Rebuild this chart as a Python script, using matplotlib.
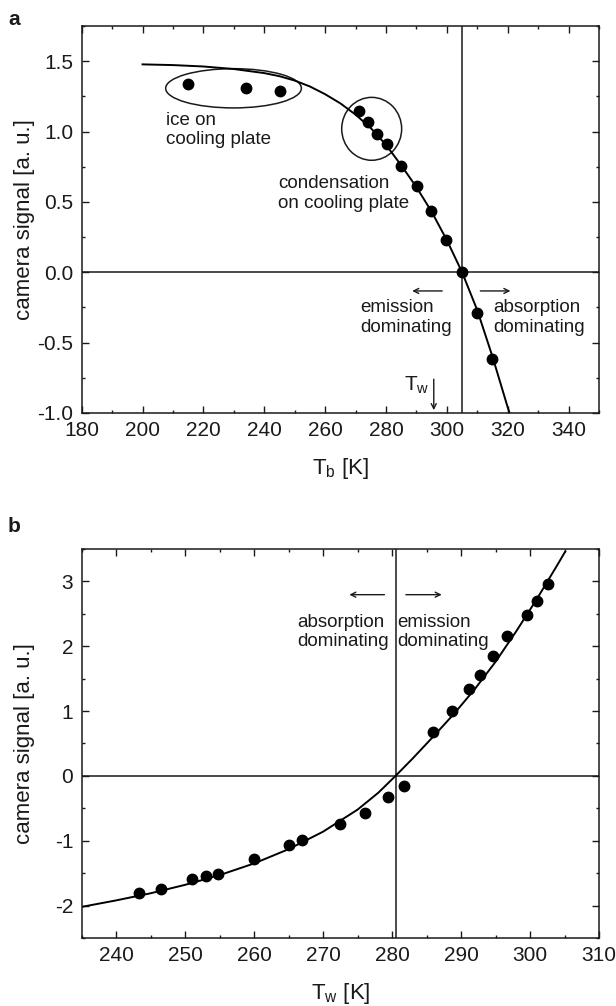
import matplotlib
matplotlib.use("Agg")
import matplotlib.pyplot as plt
from matplotlib.patches import Ellipse
from matplotlib.ticker import MultipleLocator

plt.rcParams['font.family'] = ['Liberation Sans', 'DejaVu Sans']
plt.rcParams['axes.unicode_minus'] = False
plt.rcParams['mathtext.default'] = 'regular'

# panel a: signal vs black body temperature T_b
tb_meas = [215.0, 234.0, 245.2, 271.1, 274.2, 277.0, 280.2, 285.0, 290.1,
           294.9, 299.8, 305.0, 310.0, 314.8]
sig_a = [1.338, 1.31, 1.286, 1.143, 1.064, 0.983, 0.914, 0.755, 0.614,
         0.433, 0.231, 0.0, -0.29, -0.619]
tb_fit = [200, 210, 220, 230, 240, 245, 250, 255, 260, 265, 270, 275, 280,
          285, 290, 295, 300, 305, 310, 315, 320, 320.6]
sig_a_fit = [1.477, 1.472, 1.462, 1.444, 1.415, 1.393, 1.362, 1.32, 1.265,
             1.2, 1.12, 1.025, 0.905, 0.76, 0.605, 0.43, 0.228, 0.0, -0.27,
             -0.6, -0.96, -1.0]
tw_a = 305.0

# panel b: signal vs water temperature T_w
tw_meas = [243.3, 246.5, 251.0, 253.0, 254.7, 260.0, 265.1, 266.9, 272.5,
           276.1, 279.4, 281.7, 285.9, 288.7, 291.2, 292.8, 294.6, 296.7,
           299.6, 301.0, 302.6]
sig_b = [-1.805, -1.738, -1.585, -1.549, -1.508, -1.282, -1.062, -0.985,
         -0.738, -0.574, -0.318, -0.154, 0.677, 1.005, 1.333, 1.559, 1.846,
         2.154, 2.477, 2.697, 2.954]
tw_fit = [235, 240, 245, 250, 255, 260, 265, 270, 275, 278, 280.5, 283,
          286, 289, 292, 295, 298, 301, 304, 305.1]
sig_b_fit = [-2.02, -1.92, -1.81, -1.68, -1.53, -1.35, -1.13, -0.86, -0.52,
             -0.26, 0.0, 0.27, 0.61, 0.96, 1.34, 1.76, 2.23, 2.73, 3.26, 3.46]
tb_b = 280.5

FS = 15
LFS = 16
TXT = 13.5
ink = '#1a1a1a'

fig = plt.figure(figsize=(6.16, 10.06), dpi=100)
ax1 = fig.add_axes([0.1326, 0.5895, 0.8398, 0.3847])
ax2 = fig.add_axes([0.1326, 0.0676, 0.8398, 0.3867])


def style(ax):
    ax.tick_params(which='both', direction='in', top=True, right=True,
                   labelsize=FS, colors=ink, width=1, pad=6)
    ax.tick_params(which='major', length=5)
    ax.tick_params(which='minor', length=2.5)
    for s in ax.spines.values():
        s.set_linewidth(1.1)
        s.set_color(ink)


# ---- panel a ----
ax1.axhline(0, color=ink, lw=1.1)
ax1.axvline(tw_a, color=ink, lw=1.1)
ax1.plot(tb_fit, sig_a_fit, color='k', lw=1.4)
ax1.plot(tb_meas, sig_a, 'o', color='k', ms=7.5)
ax1.add_patch(Ellipse((229.9, 1.307), 44.6, 0.279, fill=False, ec=ink, lw=1.1))
ax1.add_patch(Ellipse((275.3, 1.019), 19.7, 0.447, fill=False, ec=ink, lw=1.1))
ax1.text(207.8, 1.14, 'ice on\ncooling plate', fontsize=TXT, va='top', color=ink)
ax1.text(244.6, 0.69, 'condensation\non cooling plate', fontsize=TXT, va='top', color=ink)
ax1.text(271.4, -0.19, 'emission\ndominating', fontsize=TXT, va='top', color=ink)
ax1.text(315.1, -0.19, 'absorption\ndominating', fontsize=TXT, va='top', color=ink)
arr = dict(arrowstyle='->', lw=1, color=ink, mutation_scale=9)
ax1.annotate('', xy=(287.7, -0.133), xytext=(299.4, -0.133), arrowprops=arr)
ax1.annotate('', xy=(321.8, -0.133), xytext=(310.1, -0.133), arrowprops=arr)
ax1.annotate('', xy=(295.7, -1.0), xytext=(295.7, -0.74), arrowprops=arr)
ax1.text(285.9, -0.73, 'T$_\\mathregular{w}$', fontsize=FS, va='top', color=ink)
ax1.set_xlim(180, 350)
ax1.set_ylim(-1.0, 1.75)
ax1.xaxis.set_major_locator(MultipleLocator(20))
ax1.xaxis.set_minor_locator(MultipleLocator(10))
ax1.yaxis.set_major_locator(MultipleLocator(0.5))
ax1.yaxis.set_minor_locator(MultipleLocator(0.25))
ax1.yaxis.set_major_formatter(plt.FormatStrFormatter('%.1f'))
ax1.set_xlabel('T$_\\mathregular{b}$ [K]', fontsize=LFS, color=ink)
ax1.set_ylabel('camera signal [a. u.]', fontsize=LFS, color=ink)
ax1.xaxis.set_label_coords(0.5, -0.11)
ax1.yaxis.set_label_coords(-0.09, 0.5)
style(ax1)

# ---- panel b ----
ax2.axhline(0, color=ink, lw=1.1)
ax2.axvline(tb_b, color=ink, lw=1.1)
ax2.plot(tw_fit, sig_b_fit, color='k', lw=1.4)
ax2.plot(tw_meas, sig_b, 'o', color='k', ms=7.5)
ax2.text(266.3, 2.5, 'absorption\ndominating', fontsize=TXT, va='top', color=ink)
ax2.text(280.8, 2.5, 'emission\ndominating', fontsize=TXT, va='top', color=ink)
ax2.annotate('', xy=(273.4, 2.795), xytext=(279.3, 2.795), arrowprops=arr)
ax2.annotate('', xy=(287.6, 2.795), xytext=(281.6, 2.795), arrowprops=arr)
ax2.set_xlim(235, 310)
ax2.set_ylim(-2.5, 3.5)
ax2.xaxis.set_major_locator(MultipleLocator(10))
ax2.xaxis.set_minor_locator(MultipleLocator(5))
ax2.yaxis.set_major_locator(MultipleLocator(1))
ax2.yaxis.set_minor_locator(MultipleLocator(0.5))
ax2.set_xlabel('T$_\\mathregular{w}$ [K]', fontsize=LFS, color=ink)
ax2.set_ylabel('camera signal [a. u.]', fontsize=LFS, color=ink)
ax2.xaxis.set_label_coords(0.5, -0.11)
ax2.yaxis.set_label_coords(-0.09, 0.5)
style(ax2)

fig.text(0.013, 0.99, 'a', fontsize=15, fontweight='bold', va='top', color=ink)
fig.text(0.013, 0.486, 'b', fontsize=15, fontweight='bold', va='top', color=ink)

fig.savefig('out.png', dpi=100)
